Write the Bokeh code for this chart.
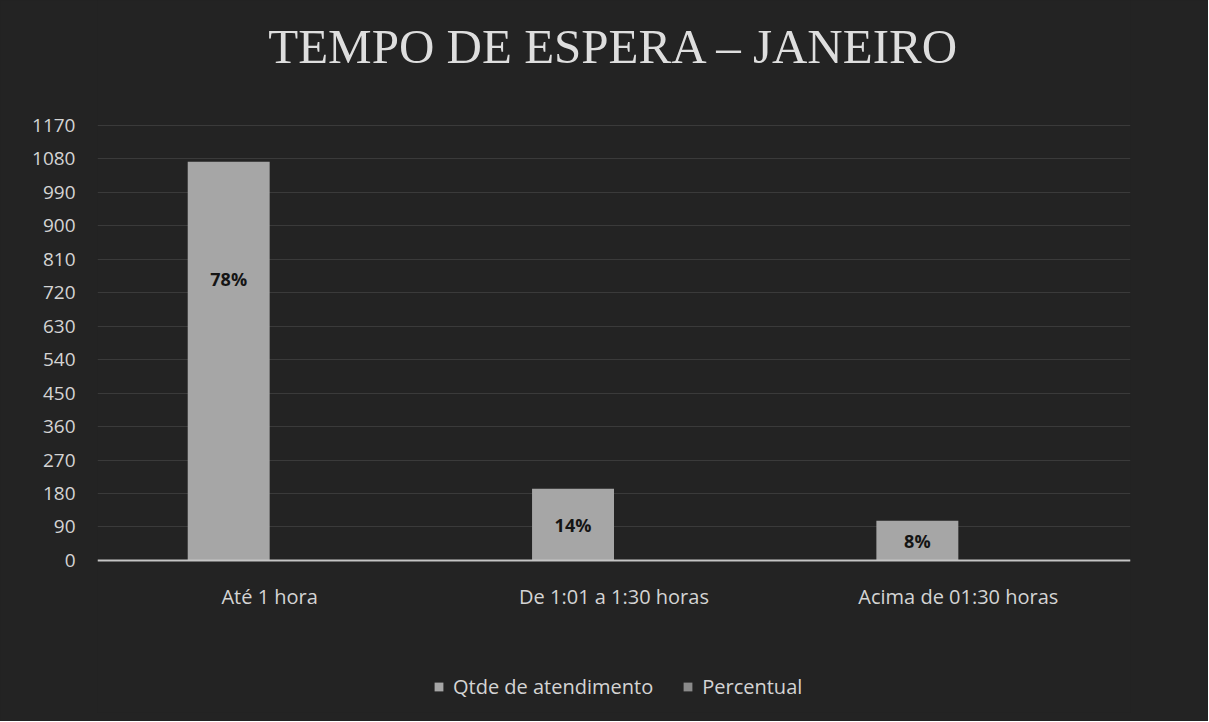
from bokeh.plotting import figure
from bokeh.models import FactorRange, Range1d, ColumnDataSource, Legend, LegendItem, Label, FixedTicker
from bokeh.transform import dodge
from bokeh.core.properties import value
from bokeh.embed import file_html
from bokeh.resources import INLINE

categories = ["Até 1 hora", "De 1:01 a 1:30 horas", "Acima de 01:30 horas"]
qtde = [1072, 193, 107]
percentual = [0.78, 0.14, 0.08]
pct_labels = ["78%", "14%", "8%"]
y_ticks = list(range(0, 1171, 90))
title_text = "TEMPO DE ESPERA – JANEIRO"

label_frac = [0.705, 0.5, 0.5]
label_y = [q * f for q, f in zip(qtde, label_frac)]

src = ColumnDataSource(dict(cat=categories, qtde=qtde, pct=percentual,
                            lab=pct_labels, ly=label_y))

BG = "#232323"
TXT = "#d4d4d4"

# frame spans the whole height; the value axis keeps its 0..1170 ticks,
# extra room above holds the title and extra room below holds the legend
p = figure(x_range=FactorRange(*categories), y_range=Range1d(-409, 1506),
           width=1208, height=721, output_backend="svg", toolbar_location=None,
           min_border_left=97, min_border_right=78, min_border_top=0,
           min_border_bottom=9)
p.background_fill_color = BG
p.border_fill_color = BG
p.outline_line_color = None
p.styles = {"background-color": BG}

title = Label(x=1.5, y=1382, text=title_text, text_align="center",
              text_baseline="middle", text_font="Liberation Serif",
              text_font_size="49px", text_color="#dedede")
p.add_layout(title)

r1 = p.vbar(x=dodge("cat", -0.119, range=p.x_range), top="qtde", width=0.238,
            source=src, fill_color="#a6a6a6", line_color=None)
r2 = p.vbar(x=dodge("cat", 0.119, range=p.x_range), top="pct", width=0.238,
            source=src, fill_color="#8a8a8a", line_color=None)

p.text(x=dodge("cat", -0.119, range=p.x_range), y="ly", text="lab", source=src,
       text_align="center", text_baseline="middle", text_color="#151515",
       text_font=value("Open Sans"), text_font_size="18px", text_font_style="bold")

p.yaxis.ticker = FixedTicker(ticks=y_ticks)
p.yaxis.axis_line_color = None
p.yaxis.major_tick_line_color = None
p.yaxis.minor_tick_line_color = None
p.yaxis.major_tick_out = 0
p.yaxis.major_label_text_color = TXT
p.yaxis.major_label_text_font = "Open Sans"
p.yaxis.major_label_text_font_size = "19px"
p.yaxis.major_label_standoff = 22

p.xaxis.fixed_location = 0
p.xaxis.axis_line_color = "#c4c4c4"
p.xaxis.axis_line_width = 2
p.xaxis.major_tick_line_color = None
p.xaxis.minor_tick_line_color = None
p.xaxis.major_tick_out = 0
p.xaxis.major_label_text_color = TXT
p.xaxis.major_label_text_font = "Open Sans"
p.xaxis.major_label_text_font_size = "20px"
p.xaxis.major_label_standoff = 23

p.xgrid.grid_line_color = None
p.ygrid.grid_line_color = "#3a3a3a"
p.ygrid.grid_line_width = 1

legend = Legend(items=[LegendItem(label="Qtde de atendimento", renderers=[r1]),
                       LegendItem(label="Percentual", renderers=[r2])],
                orientation="horizontal", location=(336, 12))
legend.background_fill_alpha = 0
legend.border_line_alpha = 0
legend.label_text_color = TXT
legend.label_text_font = "Open Sans"
legend.label_text_font_size = "20px"
legend.label_standoff = 9
legend.glyph_width = 11
legend.glyph_height = 11
legend.spacing = 29
legend.padding = 0
legend.margin = 0
p.add_layout(legend, "center")

open("out.html", "w").write(file_html(p, INLINE))
